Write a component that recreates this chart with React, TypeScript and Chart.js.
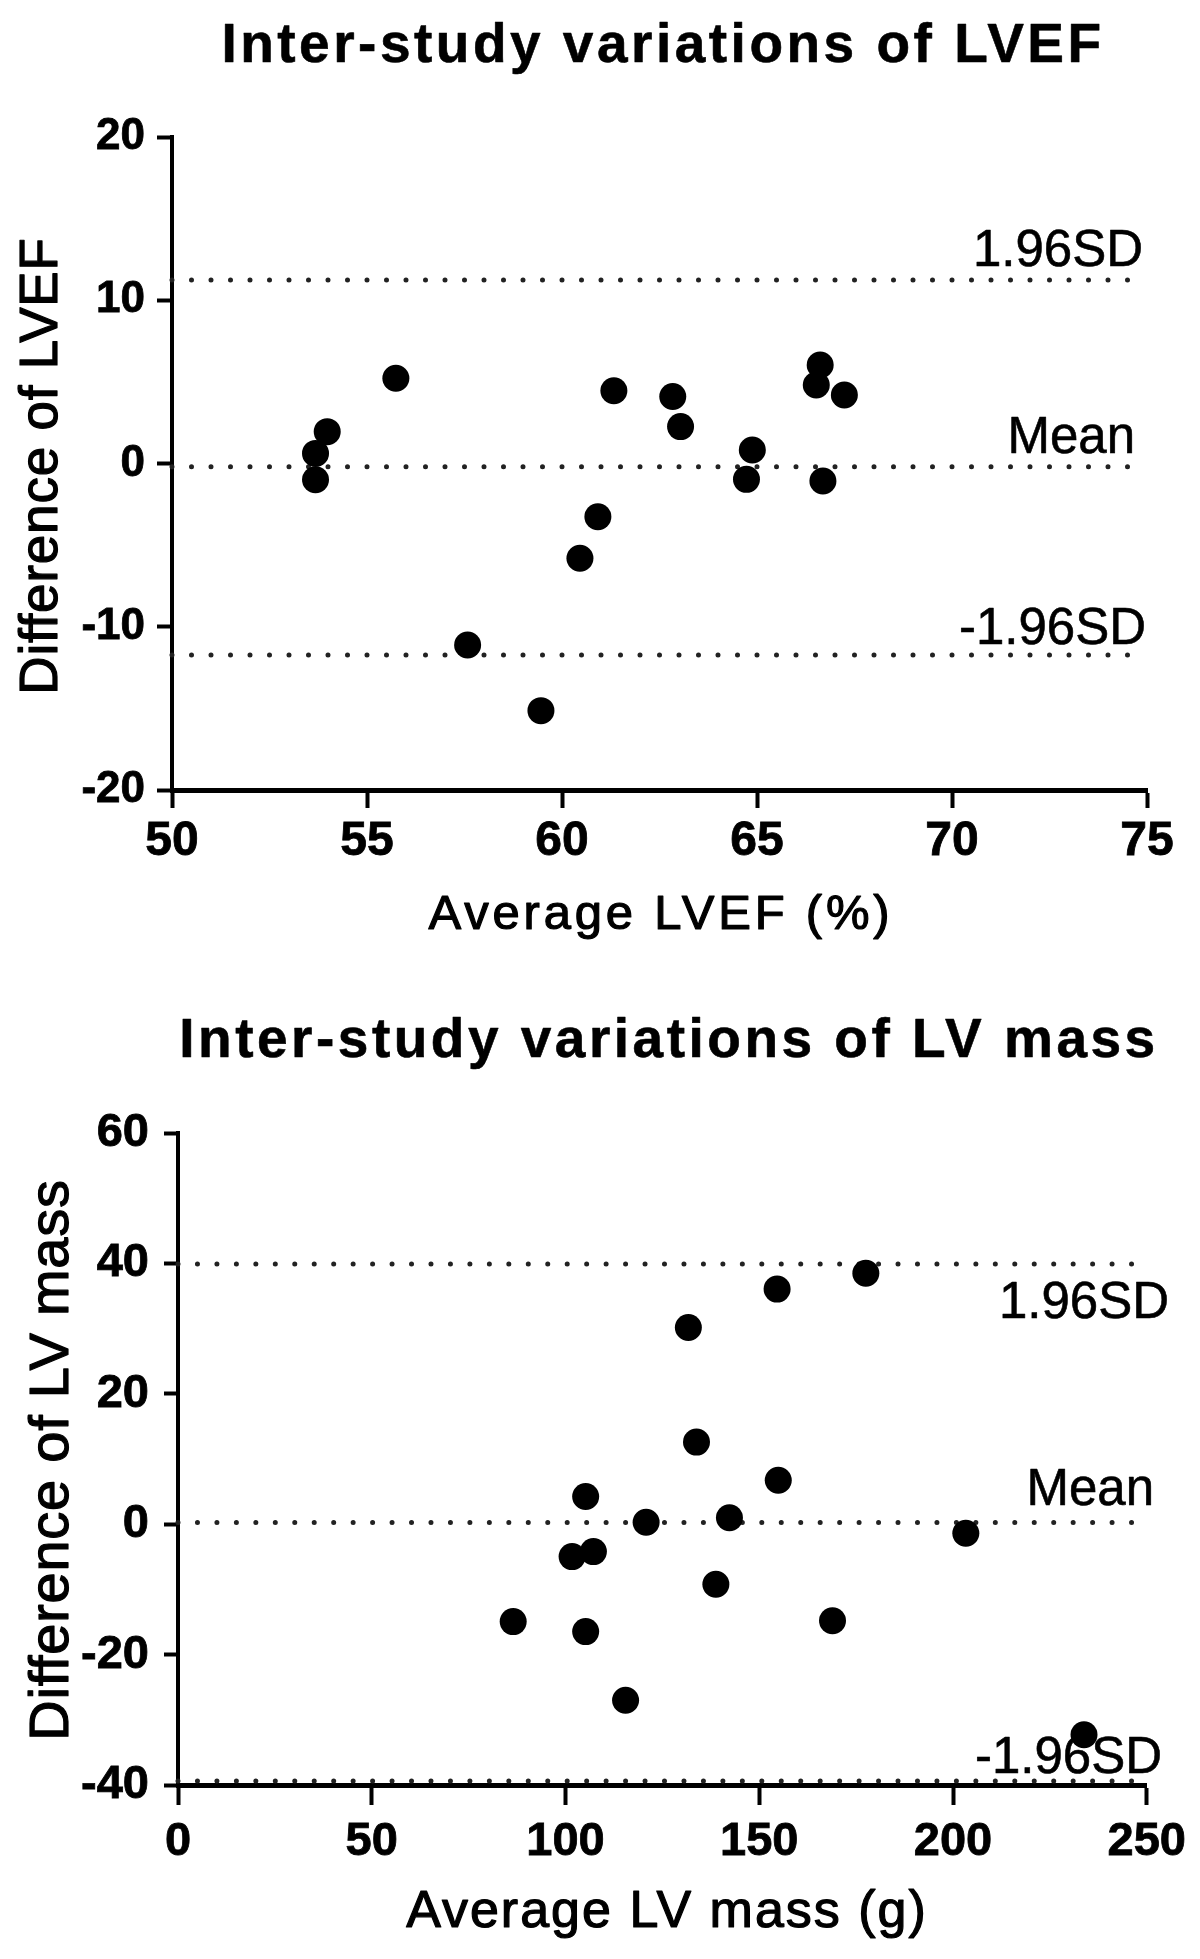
import React, { useEffect, useRef } from "react";
import { Chart, registerables } from "chart.js";

Chart.register(...registerables);

// ---------------- Data: inter-study variations of LVEF ----------------
const LVEF_AVERAGE = [53.68, 53.68, 53.98, 55.74, 57.58, 59.46, 60.46, 60.92, 61.33, 62.84, 63.04, 64.73, 64.88, 66.52, 66.62, 66.69, 67.24];
const LVEF_DIFFERENCE = [0.62, -1.0, 1.95, 5.22, -11.12, -15.14, -5.8, -3.26, 4.46, 4.1, 2.26, -0.97, 0.83, 4.81, 6.03, -1.07, 4.2];
const LVEF_LIMITS = [11.24, -0.2, -11.73]; // +1.96SD, mean, -1.96SD
const LVEF_X_RANGE = [50, 75];
const LVEF_Y_RANGE = [-20, 20];

// ---------------- Data: inter-study variations of LV mass ----------------
const LVM_AVERAGE = [86.5, 101.7, 105.2, 105.2, 107.2, 115.5, 120.8, 131.7, 133.8, 138.8, 142.3, 154.6, 154.9, 168.9, 177.5, 203.3, 233.8];
const LVM_DIFFERENCE = [-14.94, -4.97, -16.47, 4.24, -4.2, -27.0, 0.3, 30.17, 12.59, -9.2, 1.0, 36.06, 6.75, -14.8, 38.5, -1.38, -32.3];
const LVM_LIMITS = [39.9, 0.25, -39.4];
const LVM_X_RANGE = [0, 250];
const LVM_Y_RANGE = [-40, 60];

// ---------------- Text ----------------
const LIMIT_LABELS = ["1.96SD", "Mean", "-1.96SD"];
const TITLES = ["Inter-study variations of LVEF", "Inter-study variations of LV mass"];
const X_TITLES = ["Average LVEF (%)", "Average LV mass (g)"];
const Y_TITLES = ["Difference of LVEF", "Difference of LV mass"];

const FONT = "'Liberation Sans', Arial, Helvetica, sans-serif";

type TextSpec = {
  text: string;
  x: number;
  y: number;
  size: number;
  bold?: boolean;
  spacing?: number;
  rotate?: boolean;
  align?: CanvasTextAlign;
  stroke?: number;
};

function drawText(ctx: CanvasRenderingContext2D, t: TextSpec) {
  ctx.save();
  ctx.font = `${t.bold ? "bold " : ""}${t.size}px ${FONT}`;
  ctx.fillStyle = "#000";
  ctx.strokeStyle = "#000";
  ctx.lineJoin = "round";
  ctx.textBaseline = "alphabetic";
  ctx.textAlign = t.align || "center";
  (ctx as any).letterSpacing = `${t.spacing || 0}px`;
  ctx.translate(t.x, t.y);
  if (t.rotate) ctx.rotate(-Math.PI / 2);
  if (t.stroke) {
    ctx.lineWidth = t.stroke;
    ctx.strokeText(t.text, 0, 0);
  }
  ctx.fillText(t.text, 0, 0);
  (ctx as any).letterSpacing = "0px";
  ctx.restore();
}

type Spec = {
  xs: number[];
  ys: number[];
  limits: number[];
  xRange: number[];
  yRange: number[];
  xStep: number;
  yStep: number;
  height: number;
  padTop: number;
  padRight: number;
  padBottom: number;
  yWidth: number;
  xHeight: number;
  dotGap: number;
  yTick: { size: number; len: number; pad: number };
  xTick: { size: number; len: number; pad: number };
  texts: TextSpec[];
  limitLabelPos: { x: number; dy: number }[];
};

const TOP_SPEC: Spec = {
  xs: LVEF_AVERAGE,
  ys: LVEF_DIFFERENCE,
  limits: LVEF_LIMITS,
  xRange: LVEF_X_RANGE,
  yRange: LVEF_Y_RANGE,
  xStep: 5,
  yStep: 10,
  height: 980,
  padTop: 137,
  padRight: 53,
  padBottom: 80,
  yWidth: 172,
  xHeight: 110,
  dotGap: 19.5,
  yTick: { size: 44, len: 15, pad: 12 },
  xTick: { size: 48, len: 18, pad: 10 },
  texts: [
    { text: TITLES[0], x: 663, y: 62, size: 55, bold: true, spacing: 3.5, stroke: 0.6 },
    { text: Y_TITLES[0], x: 57, y: 466, size: 53, spacing: 0.8, rotate: true, stroke: 1.2 },
    { text: X_TITLES[0], x: 661, y: 929, size: 49, spacing: 3.8, stroke: 1.2 },
  ],
  limitLabelPos: [
    { x: 1143, dy: -14 },
    { x: 1135, dy: -14 },
    { x: 1146, dy: -11 },
  ],
};

const BOTTOM_SPEC: Spec = {
  xs: LVM_AVERAGE,
  ys: LVM_DIFFERENCE,
  limits: LVM_LIMITS,
  xRange: LVM_X_RANGE,
  yRange: LVM_Y_RANGE,
  xStep: 50,
  yStep: 20,
  height: 979,
  padTop: 153,
  padRight: 49,
  padBottom: 64,
  yWidth: 178,
  xHeight: 110,
  dotGap: 19.46,
  yTick: { size: 47, len: 14, pad: 15 },
  xTick: { size: 47, len: 20, pad: 14 },
  texts: [
    { text: TITLES[1], x: 669, y: 77, size: 55, bold: true, spacing: 3.5, stroke: 0.6 },
    { text: Y_TITLES[1], x: 68, y: 480, size: 56, spacing: 0.75, rotate: true, stroke: 1.2 },
    { text: X_TITLES[1], x: 667, y: 947, size: 52, spacing: 2, stroke: 1.2 },
  ],
  limitLabelPos: [
    { x: 1169, dy: 54 },
    { x: 1154, dy: -17.7 },
    { x: 1162, dy: -8 },
  ],
};

function buildConfig(spec: Spec): any {
  const points = spec.xs.map((x, i) => ({ x, y: spec.ys[i] }));
  const lineSets = spec.limits.map((v) => ({
    type: "line",
    data: [
      { x: spec.xRange[0], y: v },
      { x: spec.xRange[1], y: v },
    ],
    showLine: true,
    borderColor: "#222",
    borderWidth: 5,
    borderDash: [0, spec.dotGap],
    borderCapStyle: "round",
    pointRadius: 0,
    fill: false,
    tension: 0,
    clip: false,
    order: 1,
  }));

  const textPlugin = {
    id: "blandAltmanTexts",
    afterDraw(chart: any) {
      const ctx: CanvasRenderingContext2D = chart.ctx;
      spec.texts.forEach((t) => drawText(ctx, t));
      const yScale = chart.scales.y;
      spec.limits.forEach((v, i) => {
        const py = yScale.getPixelForValue(v);
        const pos = spec.limitLabelPos[i];
        drawText(ctx, { text: LIMIT_LABELS[i], x: pos.x, y: py + pos.dy, size: 51, align: "right", stroke: 0.6 });
      });
    },
  };

  const tickFont = (size: number) => ({ family: FONT, size, weight: "bold", lineHeight: 1 });

  return {
    type: "scatter",
    data: {
      datasets: [
        {
          data: points,
          pointRadius: 13.5,
          pointHoverRadius: 13.5,
          pointBackgroundColor: "#000",
          pointBorderColor: "#000",
          pointBorderWidth: 0,
          order: 0,
        },
        ...lineSets,
      ],
    },
    options: {
      animation: false,
      responsive: false,
      devicePixelRatio: 1,
      events: [],
      layout: {
        padding: { left: 0, top: spec.padTop, right: spec.padRight, bottom: spec.padBottom },
      },
      plugins: {
        legend: { display: false },
        title: { display: false },
        tooltip: { enabled: false },
      },
      scales: {
        x: {
          type: "linear",
          min: spec.xRange[0],
          max: spec.xRange[1],
          afterFit: (s: any) => {
            s.height = spec.xHeight;
          },
          border: { display: true, color: "#000", width: 5 },
          grid: {
            display: true,
            drawOnChartArea: false,
            drawTicks: true,
            tickLength: spec.xTick.len,
            tickWidth: 4,
            tickColor: "#000",
          },
          ticks: {
            stepSize: spec.xStep,
            color: "#000",
            padding: spec.xTick.pad,
            maxRotation: 0,
            minRotation: 0,
            autoSkip: false,
            textStrokeColor: "#000",
            textStrokeWidth: 0.8,
            font: tickFont(spec.xTick.size),
          },
          title: { display: false },
        },
        y: {
          type: "linear",
          min: spec.yRange[0],
          max: spec.yRange[1],
          afterFit: (s: any) => {
            s.width = spec.yWidth;
          },
          border: { display: true, color: "#000", width: 4 },
          grid: {
            display: true,
            drawOnChartArea: false,
            drawTicks: true,
            tickLength: spec.yTick.len,
            tickWidth: 4,
            tickColor: "#000",
          },
          ticks: {
            stepSize: spec.yStep,
            color: "#000",
            padding: spec.yTick.pad,
            autoSkip: false,
            textStrokeColor: "#000",
            textStrokeWidth: 0.8,
            font: tickFont(spec.yTick.size),
          },
          title: { display: false },
        },
      },
    },
    plugins: [textPlugin],
  };
}

export default function App() {
  const topRef = useRef<HTMLCanvasElement>(null);
  const bottomRef = useRef<HTMLCanvasElement>(null);

  useEffect(() => {
    const top = new Chart(topRef.current as HTMLCanvasElement, buildConfig(TOP_SPEC));
    const bottom = new Chart(bottomRef.current as HTMLCanvasElement, buildConfig(BOTTOM_SPEC));
    return () => {
      top.destroy();
      bottom.destroy();
    };
  }, []);

  return (
    <div style={{ position: "absolute", left: 0, top: 0, width: 1200, height: 1959, background: "#fff" }}>
      <canvas ref={topRef} width={1200} height={TOP_SPEC.height} style={{ display: "block", width: 1200, height: TOP_SPEC.height }} />
      <canvas ref={bottomRef} width={1200} height={BOTTOM_SPEC.height} style={{ display: "block", width: 1200, height: BOTTOM_SPEC.height }} />
    </div>
  );
}
